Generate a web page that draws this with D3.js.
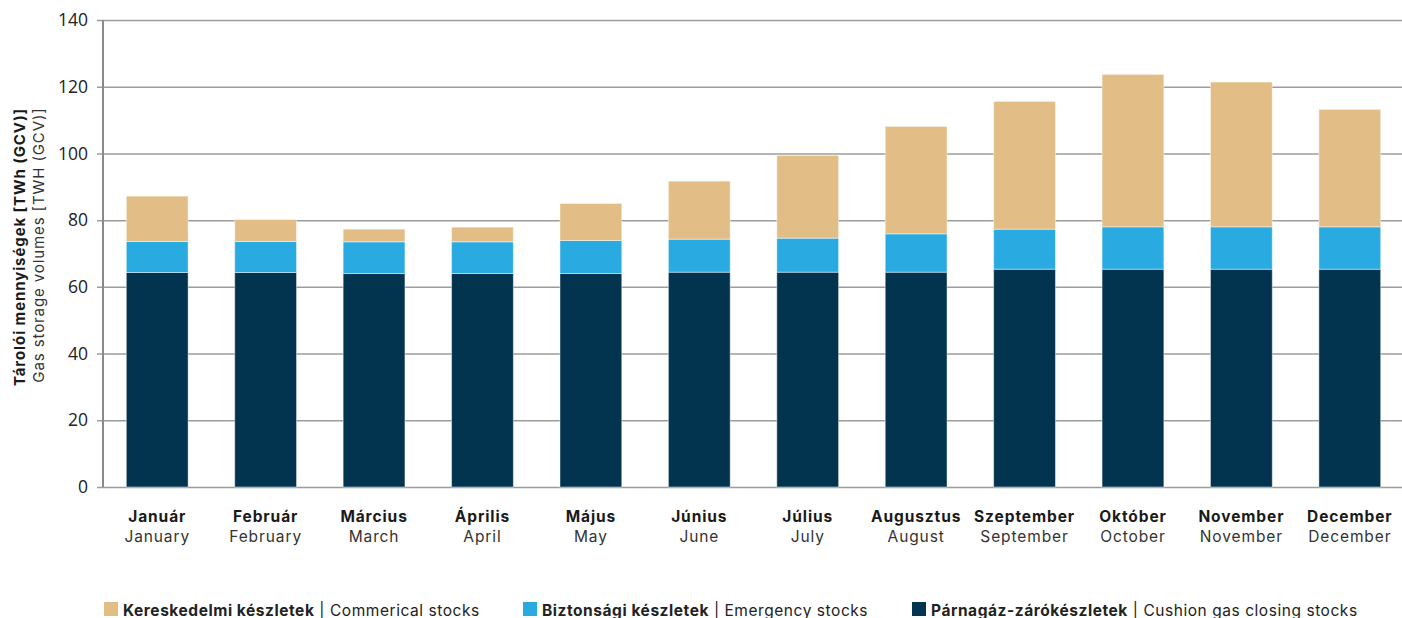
<!DOCTYPE html>
<html>
<head>
<meta charset="utf-8">
<script src="https://cdn.jsdelivr.net/npm/d3@7"></script>
<style>
  body { margin: 0; background: #fff; }
  svg { display: block; font-family: "Inter", "Open Sans", sans-serif; }
  .grid line { stroke: #9c9c9c; stroke-width: 1.5; }
  .yaxis text { font-family: "Open Sans", sans-serif; font-size: 17.5px; fill: #222; }
  .lbl { letter-spacing: 0.9px; }
  .leg { letter-spacing: 0.55px; }
</style>
</head>
<body>
<svg width="1402" height="618"></svg>
<script>
const monthsHu = ["Január", "Február", "Március", "Április", "Május", "Június",
                  "Július", "Augusztus", "Szeptember", "Október", "November", "December"];
const monthsEn = ["January", "February", "March", "April", "May", "June",
                  "July", "August", "September", "October", "November", "December"];

// TWh (GCV)
const cushion    = [64.3, 64.3, 64.0, 64.0, 64.0, 64.4, 64.4, 64.4, 65.3, 65.3, 65.3, 65.3];
const emergency  = [9.3, 9.3, 9.5, 9.5, 9.9, 9.9, 10.2, 11.5, 12.0, 12.7, 12.7, 12.7];
const commercial = [13.6, 6.6, 3.8, 4.4, 11.1, 17.4, 24.8, 32.2, 38.3, 45.7, 43.4, 35.2];

const yTicks = [0, 20, 40, 60, 80, 100, 120, 140];

const seriesInfo = [
    { key: "cushion", hu: "Párnagáz-zárókészletek", en: "Cushion gas closing stocks", color: "#02344f" },
    { key: "emergency", hu: "Biztonsági készletek", en: "Emergency stocks", color: "#29aae1" },
    { key: "commercial", hu: "Kereskedelmi készletek", en: "Commerical stocks", color: "#e2be86" }
];

const rows = monthsHu.map((m, i) => ({
    month: m,
    cushion: cushion[i],
    emergency: emergency[i],
    commercial: commercial[i]
}));

const svg = d3.select("svg");
const margin = { left: 103, right: 0, top: 20, bottom: 131 };
const W = 1402, H = 618;

const x = d3.scaleBand()
    .domain(monthsHu)
    .range([margin.left, W - margin.right + 2])
    .paddingInner(0.43)
    .paddingOuter(0.215);

const y = d3.scaleLinear()
    .domain([0, 140])
    .range([H - margin.bottom, margin.top]);

// grid + ticks
svg.append("g")
   .attr("class", "grid")
   .attr("transform", `translate(${margin.left},0)`)
   .call(d3.axisLeft(y).tickValues(yTicks).tickSize(-(W - margin.left)).tickFormat(""))
   .call(g => g.select(".domain").remove())
   .call(g => g.selectAll(".tick line").attr("x1", -6));

const yAxis = svg.append("g")
   .attr("class", "yaxis")
   .attr("transform", `translate(${margin.left},0)`)
   .call(d3.axisLeft(y).tickValues(yTicks).tickSize(0).tickPadding(15));
yAxis.select(".domain").remove();

svg.append("line")
   .attr("x1", margin.left).attr("x2", margin.left)
   .attr("y1", y(140)).attr("y2", y(0))
   .attr("stroke", "#8a8a8a").attr("stroke-width", 2);

// bars
const stack = d3.stack().keys(seriesInfo.map(s => s.key));
const layers = stack(rows);

svg.append("g")
   .selectAll("g")
   .data(layers)
   .join("g")
   .attr("fill", (d, i) => seriesInfo[i].color)
   .selectAll("rect")
   .data(d => d)
   .join("rect")
   .attr("x", d => x(d.data.month))
   .attr("width", x.bandwidth())
   .attr("y", d => y(d[1]))
   .attr("height", d => y(d[0]) - y(d[1]))
   .attr("stroke", "rgba(255,255,255,0.45)")
   .attr("stroke-width", 1);

// x labels
const xl = svg.append("g")
   .selectAll("g")
   .data(monthsHu)
   .join("g")
   .attr("transform", d => `translate(${x(d) + x.bandwidth() / 2},0)`);

xl.append("text")
  .attr("class", "lbl")
  .attr("y", 522)
  .attr("text-anchor", "middle")
  .attr("font-size", 15.5)
  .attr("font-weight", 700)
  .attr("fill", "#1a1a1a")
  .text(d => d);

xl.append("text")
  .attr("class", "lbl")
  .attr("y", 542)
  .attr("text-anchor", "middle")
  .attr("font-size", 15.5)
  .attr("fill", "#333")
  .text((d, i) => monthsEn[i]);

// y title
svg.append("text")
   .attr("class", "lbl")
   .attr("transform", "translate(25,247) rotate(-90)")
   .attr("text-anchor", "middle")
   .attr("font-size", 15)
   .attr("font-weight", 700)
   .attr("fill", "#1a1a1a")
   .text("Tárolói mennyiségek [TWh (GCV)]");

svg.append("text")
   .attr("class", "lbl")
   .attr("transform", "translate(44,245) rotate(-90)")
   .attr("text-anchor", "middle")
   .attr("font-size", 15)
   .attr("fill", "#333")
   .text("Gas storage volumes [TWH (GCV)]");

// legend
const legendX = [104, 523, 912];
const legendOrder = [2, 1, 0];
const lg = svg.append("g")
   .selectAll("g")
   .data(legendOrder)
   .join("g")
   .attr("transform", (d, i) => `translate(${legendX[i]},602)`);

lg.append("rect")
  .attr("width", 14).attr("height", 14)
  .attr("fill", d => seriesInfo[d].color);

const lt = lg.append("text")
  .attr("class", "leg")
  .attr("x", 19).attr("y", 13.5)
  .attr("font-size", 15.5)
  .attr("fill", "#222");
lt.append("tspan").attr("font-weight", 700).text(d => seriesInfo[d].hu);
lt.append("tspan").text(d => " | " + seriesInfo[d].en);
</script>
</body>
</html>
